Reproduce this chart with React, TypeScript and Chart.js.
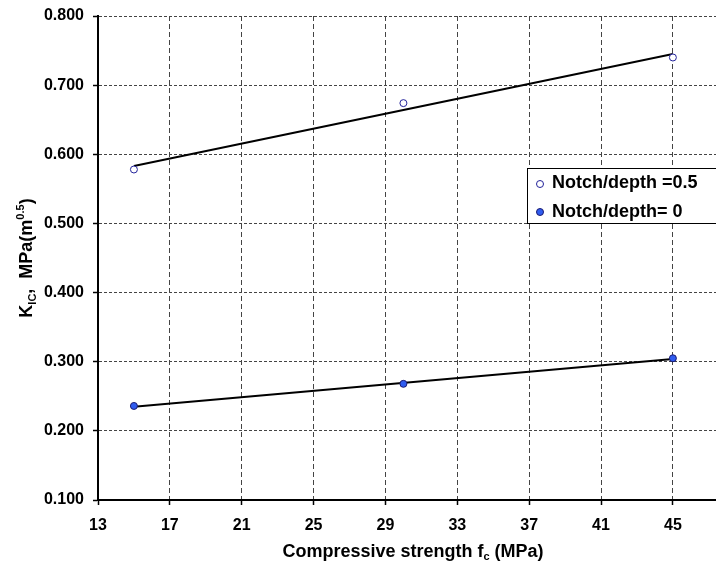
import React, { useEffect, useRef } from "react";
import { Chart, registerables } from "chart.js";

Chart.register(...registerables);

// ---- data ----
const fcValues = [15, 30, 45];
const kicNotch05 = [0.578, 0.674, 0.74];
const kicNotch0 = [0.236, 0.268, 0.305];
const trendX = [15, 45];
const trendNotch05 = [0.583, 0.745];
const trendNotch0 = [0.235, 0.304];
const xTicks = [13, 17, 21, 25, 29, 33, 37, 41, 45];
const yTicks = [0.1, 0.2, 0.3, 0.4, 0.5, 0.6, 0.7, 0.8];
const legendLabels = ["Notch/depth =0.5", "Notch/depth= 0"];

const FONT = '"Liberation Sans", Arial, Helvetica, sans-serif';
const OPEN_STROKE = "#22229a";
const FILL_BLUE = "#2f5cf0";
const FILL_BORDER = "#1a1a70";

type Run = { text: string; size: number; dy: number };

function runsWidth(ctx: CanvasRenderingContext2D, runs: Run[]) {
  let w = 0;
  for (const r of runs) {
    ctx.font = `bold ${r.size}px ${FONT}`;
    w += ctx.measureText(r.text).width;
  }
  return w;
}

function drawRuns(ctx: CanvasRenderingContext2D, runs: Run[], x: number, y: number) {
  let cx = x;
  for (const r of runs) {
    ctx.font = `bold ${r.size}px ${FONT}`;
    ctx.fillText(r.text, cx, y + r.dy);
    cx += ctx.measureText(r.text).width;
  }
}

const decorPlugin = {
  id: "decor",
  afterDraw(chart: any) {
    const ctx: CanvasRenderingContext2D = chart.ctx;
    ctx.save();
    ctx.fillStyle = "#000";
    ctx.textBaseline = "alphabetic";
    ctx.textAlign = "left";

    // x title
    const xRuns: Run[] = [
      { text: "Compressive strength f", size: 18, dy: 0 },
      { text: "c", size: 11, dy: 3 },
      { text: " (MPa)", size: 18, dy: 0 },
    ];
    const xw = runsWidth(ctx, xRuns);
    drawRuns(ctx, xRuns, 413 - xw / 2, 557);

    // y title (rotated)
    const yRuns: Run[] = [
      { text: "K", size: 18, dy: 0 },
      { text: "IC", size: 11, dy: 4 },
      { text: ",  MPa(m", size: 18, dy: 0 },
      { text: "0.5", size: 11, dy: -8 },
      { text: ")", size: 18, dy: 0 },
    ];
    const yw = runsWidth(ctx, yRuns);
    ctx.save();
    ctx.translate(25, 258);
    ctx.rotate(-Math.PI / 2);
    drawRuns(ctx, yRuns, -yw / 2, 6.5);
    ctx.restore();

    // legend box
    const lx = 527.5, ly = 168.5, lw = 220, lh = 55;
    ctx.fillStyle = "#fff";
    ctx.fillRect(lx, ly, lw, lh);
    ctx.strokeStyle = "#000";
    ctx.lineWidth = 1;
    ctx.strokeRect(lx, ly, lw, lh);

    const rows = [183, 212];
    ctx.lineWidth = 1;
    ctx.beginPath();
    ctx.arc(540, rows[0] + 1, 3.5, 0, Math.PI * 2);
    ctx.fillStyle = "#fff";
    ctx.fill();
    ctx.strokeStyle = OPEN_STROKE;
    ctx.stroke();
    ctx.beginPath();
    ctx.arc(540, rows[1], 3.5, 0, Math.PI * 2);
    ctx.fillStyle = FILL_BLUE;
    ctx.fill();
    ctx.strokeStyle = FILL_BORDER;
    ctx.stroke();

    ctx.fillStyle = "#000";
    ctx.font = `bold 18px ${FONT}`;
    ctx.textBaseline = "middle";
    ctx.fillText(legendLabels[0], 552, rows[0]);
    ctx.fillText(legendLabels[1], 552, rows[1]);
    ctx.restore();
  },
};

export default function App() {
  const canvasRef = useRef<HTMLCanvasElement | null>(null);

  useEffect(() => {
    const canvas = canvasRef.current;
    if (!canvas) return;
    const chart = new Chart(canvas, {
      type: "scatter",
      data: {
        datasets: [
          {
            label: legendLabels[0],
            data: fcValues.map((x, i) => ({ x, y: kicNotch05[i] })),
            pointRadius: 3.5,
            pointBorderWidth: 1,
            pointBackgroundColor: "#ffffff",
            pointBorderColor: OPEN_STROKE,
            showLine: false,
          },
          {
            label: legendLabels[1],
            data: fcValues.map((x, i) => ({ x, y: kicNotch0[i] })),
            pointRadius: 3.5,
            pointBorderWidth: 1,
            pointBackgroundColor: FILL_BLUE,
            pointBorderColor: FILL_BORDER,
            showLine: false,
          },
          {
            label: "trend 0.5",
            data: trendX.map((x, i) => ({ x, y: trendNotch05[i] })),
            showLine: true,
            borderColor: "#000",
            borderWidth: 2,
            pointRadius: 0,
          },
          {
            label: "trend 0",
            data: trendX.map((x, i) => ({ x, y: trendNotch0[i] })),
            showLine: true,
            borderColor: "#000",
            borderWidth: 2,
            pointRadius: 0,
          },
        ],
      },
      options: {
        responsive: false,
        animation: false,
        devicePixelRatio: 1,
        layout: { padding: 0, autoPadding: false },
        plugins: {
          legend: { display: false },
          tooltip: { enabled: false },
          title: { display: false },
        },
        scales: {
          x: {
            type: "linear",
            min: 13,
            max: 47.4,
            afterBuildTicks: (scale: any) => {
              scale.ticks = xTicks.map((v) => ({ value: v }));
            },
            afterFit: (scale: any) => {
              scale.height = 69;
              scale.paddingLeft = 0;
              scale.paddingRight = 0;
              scale.paddingTop = 0;
              scale.paddingBottom = 0;
            },
            ticks: {
              color: "#000",
              font: { family: FONT, size: 16, weight: "bold" },
              padding: 11,
              maxRotation: 0,
              autoSkip: false,
              callback: (v: any) => String(v),
            },
            grid: {
              color: "#444",
              lineWidth: 1,
              tickLength: 5,
              tickColor: "#000",
              tickWidth: 1.5,
              tickBorderDash: [],
            },
            border: { color: "#000", width: 2, dash: [5, 3] },
          },
          y: {
            type: "linear",
            min: 0.1,
            max: 0.8,
            afterBuildTicks: (scale: any) => {
              scale.ticks = yTicks.map((v) => ({ value: v }));
            },
            afterFit: (scale: any) => {
              scale.width = 98;
              scale.paddingTop = 16;
              scale.paddingBottom = 0;
              scale.paddingLeft = 0;
              scale.paddingRight = 0;
            },
            ticks: {
              color: "#000",
              font: { family: FONT, size: 16, weight: "bold" },
              padding: 9,
              autoSkip: false,
              callback: (v: any) => Number(v).toFixed(3),
            },
            grid: {
              color: "#444",
              lineWidth: 1,
              tickLength: 5,
              tickColor: "#000",
              tickWidth: 1.5,
              tickBorderDash: [],
            },
            border: { color: "#000", width: 2, dash: [3, 2] },
          },
        },
      },
      plugins: [decorPlugin],
    } as any);
    return () => chart.destroy();
  }, []);

  return (
    <div style={{ position: "absolute", left: 0, top: 0, width: 716, height: 569, background: "#fff" }}>
      <canvas ref={canvasRef} width={716} height={569} style={{ display: "block" }} />
    </div>
  );
}
